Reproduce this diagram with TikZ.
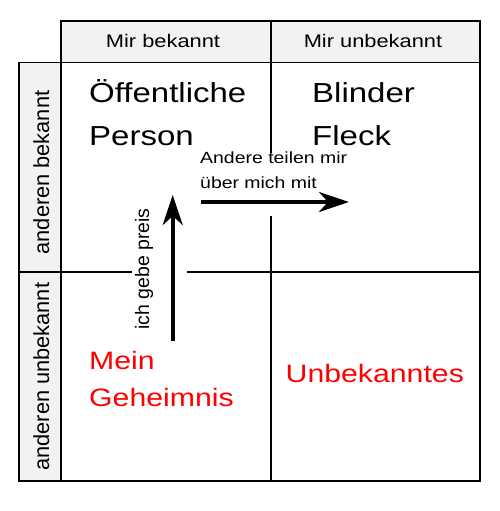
\documentclass[tikz,border=0pt]{standalone}
\usepackage{fontspec}
\setmainfont{Liberation Sans}[FakeStretch=1.2]
\newfontfamily\plainsans{Liberation Sans}
\usetikzlibrary{arrows.meta}
\definecolor{headgray}{HTML}{F2F2F2}
\begin{document}
\begin{tikzpicture}[x=1pt,y=-1pt,
  gridline/.style={line width=1.8pt, line cap=rect},
  headcell/.style={fill=headgray, draw=black, line width=1.8pt},
  headtext/.style={inner sep=0pt, anchor=base, font=\fontsize{18.2}{22}\selectfont},
  sidetext/.style={inner sep=0pt, rotate=90, font=\plainsans\fontsize{21.8}{26}\selectfont},
  bigtext/.style={inner sep=0pt, anchor=base west, align=left, font=\fontsize{27.5}{43}\selectfont},
  redtext/.style={inner sep=0pt, anchor=base west, align=left, text=red, font=\fontsize{25.2}{37.4}\selectfont},
  smalltext/.style={inner sep=0pt, anchor=base west, align=left, font=\fontsize{16.2}{25}\selectfont},
  flow/.style={line width=4pt, -{Stealth[length=30pt, width=20pt, inset=9pt]}}
]
\useasboundingbox (0,0) rectangle (500,511);
% header cells
\draw[headcell] (61,21) rectangle (271,62.5);
\draw[headcell] (271,21) rectangle (480,62.5);
\draw[headcell] (19,62.5) rectangle (61,272);
\draw[headcell] (19,272) rectangle (61,481);
% main grid
\draw[gridline] (61,62.5) rectangle (480,481);
\draw[gridline] (271,62.5) -- (271,152);
\draw[gridline] (271,217) -- (271,481);
\draw[gridline] (61,272) -- (131,272);
\draw[gridline] (188,272) -- (480,272);
% header texts
\node[headtext] (h1) at (163,48) {Mir bekannt};
\node[headtext] (h2) at (373,48) {Mir unbekannt};
\node[sidetext] (s1) at (41.3,172.5) {anderen bekannt};
\node[sidetext] (s2) at (41.3,376.7) {anderen unbekannt};
% quadrant texts (base anchor = baseline of last line)
\node[bigtext] (q1) at (89,145.5) {Öffentliche\\Person};
\node[bigtext] (q2) at (312,145.5) {Blinder\\Fleck};
\node[redtext] (q3) at (89,406.7) {Mein\\Geheimnis};
\node[redtext] (q4) at (285.5,382.5) {Unbekanntes};
% arrows
\coordinate (v0) at (172.7,341);
\coordinate (v1) at (172.7,195);
\coordinate (r0) at (201,202);
\coordinate (r1) at (349,202);
\draw[flow] (v0) -- (v1);
\draw[flow] (r0) -- (r1);
\node[smalltext] (t1) at (200,188.3) {Andere teilen mir\\über mich mit};
\node[sidetext, font=\plainsans\fontsize{19.5}{24}\selectfont] (t2) at (144,269) {ich gebe preis};
\end{tikzpicture}
\end{document}
